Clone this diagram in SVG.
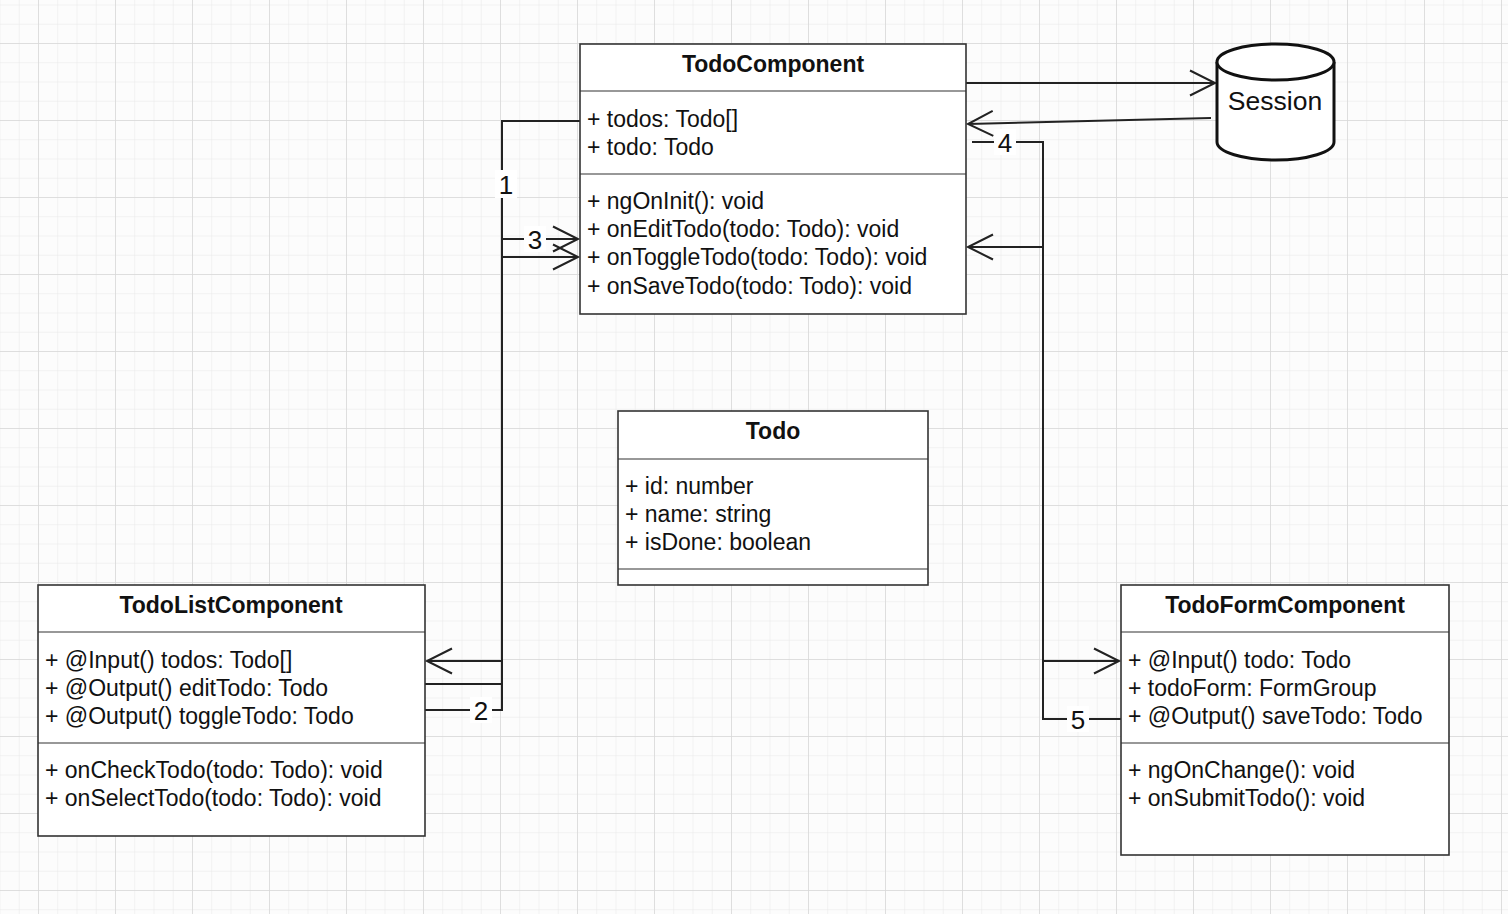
<svg xmlns="http://www.w3.org/2000/svg" width="1508" height="914" viewBox="0 0 1508 914">
<defs>
<pattern id="minor" x="18.75" y="4.5" width="19.25" height="19.25" patternUnits="userSpaceOnUse">
<path d="M0,0 V19.25 M0,0 H19.25" fill="none" stroke="#e8e8e8" stroke-width="1"/>
</pattern>
<pattern id="major" x="38" y="43" width="77" height="77" patternUnits="userSpaceOnUse">
<path d="M0,0 V77 M0,0 H77" fill="none" stroke="#d8d8d8" stroke-width="1.5"/>
</pattern>
<marker id="open" markerUnits="userSpaceOnUse" markerWidth="30" markerHeight="30" refX="26" refY="13" orient="auto" overflow="visible">
<path d="M1,0.5 L26,13 L1,25.5" fill="none" stroke="#222" stroke-width="2"/>
</marker>
<style>
.box{fill:#fff;stroke:#333;stroke-width:1.6}
.sep{stroke:#333;stroke-width:1.2}
.t{font-family:"Liberation Sans",Arial,sans-serif;font-size:23px;fill:#111}
.h{font-family:"Liberation Sans",Arial,sans-serif;font-size:23px;font-weight:bold;fill:#111;text-anchor:middle}
.c{fill:none;stroke:#222;stroke-width:2}
.lbl{font-family:"Liberation Sans",Arial,sans-serif;font-size:26px;fill:#111;text-anchor:middle;dominant-baseline:central}
.lb{fill:#fff}
</style>
</defs>
<rect width="1508" height="914" fill="#fcfcfc"/>
<rect width="1508" height="914" fill="url(#minor)"/>
<rect width="1508" height="914" fill="url(#major)"/>

<g id="connectors">
<polyline class="c" points="580,121 502,121 502,661 427,661" marker-end="url(#open)"/>
<polyline class="c" points="425,710 502,710 502,257 578,257" marker-end="url(#open)"/>
<polyline class="c" points="425,684 502,684 502,239 578,239" marker-end="url(#open)"/>
<polyline class="c" points="972,142 1043,142 1043,661 1119,661" marker-end="url(#open)"/>
<polyline class="c" points="1121,719 1043,719 1043,247 968,247" marker-end="url(#open)"/>
<line class="c" x1="966" y1="83" x2="1215" y2="83" marker-end="url(#open)"/>
<line class="c" x1="1211" y1="118" x2="968" y2="124" marker-end="url(#open)"/>
<rect class="lb" x="495" y="170" width="22" height="28"/>
<text class="lbl" x="506" y="185">1</text>
<rect class="lb" x="470" y="697" width="22" height="26"/>
<text class="lbl" x="481" y="711">2</text>
<rect class="lb" x="524" y="226" width="22" height="26"/>
<text class="lbl" x="535" y="240">3</text>
<rect class="lb" x="994" y="129" width="22" height="26"/>
<text class="lbl" x="1005" y="143">4</text>
<rect class="lb" x="1067" y="706" width="22" height="26"/>
<text class="lbl" x="1078" y="720">5</text>
</g>

<g id="TodoComponent">
<rect class="box" x="580" y="44" width="386" height="270"/>
<line class="sep" x1="580" y1="91" x2="966" y2="91"/>
<line class="sep" x1="580" y1="174" x2="966" y2="174"/>
<text class="h" x="773" y="72">TodoComponent</text>
<text class="t" x="587" y="127">+ todos: Todo[]</text>
<text class="t" x="587" y="155">+ todo: Todo</text>
<text class="t" x="587" y="209">+ ngOnInit(): void</text>
<text class="t" x="587" y="237">+ onEditTodo(todo: Todo): void</text>
<text class="t" x="587" y="265">+ onToggleTodo(todo: Todo): void</text>
<text class="t" x="587" y="294">+ onSaveTodo(todo: Todo): void</text>
</g>

<g id="Session">
<path d="M1217,62 V142 A58.5,18 0 0 0 1334,142 V62" fill="#fff" stroke="#111" stroke-width="3"/>
<ellipse cx="1275.5" cy="62" rx="58.5" ry="18" fill="#fff" stroke="#111" stroke-width="3"/>
<text class="t" x="1275" y="110" text-anchor="middle" style="font-size:26.5px">Session</text>
</g>

<g id="Todo">
<rect class="box" x="618" y="411" width="310" height="174"/>
<line class="sep" x1="618" y1="459" x2="928" y2="459"/>
<line class="sep" x1="618" y1="569" x2="928" y2="569"/>
<text class="h" x="773" y="439">Todo</text>
<text class="t" x="625" y="494">+ id: number</text>
<text class="t" x="625" y="522">+ name: string</text>
<text class="t" x="625" y="550">+ isDone: boolean</text>
</g>

<g id="TodoListComponent">
<rect class="box" x="38" y="585" width="387" height="251"/>
<line class="sep" x1="38" y1="632" x2="425" y2="632"/>
<line class="sep" x1="38" y1="743" x2="425" y2="743"/>
<text class="h" x="231" y="613">TodoListComponent</text>
<text class="t" x="45" y="668">+ @Input() todos: Todo[]</text>
<text class="t" x="45" y="696">+ @Output() editTodo: Todo</text>
<text class="t" x="45" y="724">+ @Output() toggleTodo: Todo</text>
<text class="t" x="45" y="778">+ onCheckTodo(todo: Todo): void</text>
<text class="t" x="45" y="806">+ onSelectTodo(todo: Todo): void</text>
</g>

<g id="TodoFormComponent">
<rect class="box" x="1121" y="585" width="328" height="270"/>
<line class="sep" x1="1121" y1="632" x2="1449" y2="632"/>
<line class="sep" x1="1121" y1="743" x2="1449" y2="743"/>
<text class="h" x="1285" y="613">TodoFormComponent</text>
<text class="t" x="1128" y="668">+ @Input() todo: Todo</text>
<text class="t" x="1128" y="696">+ todoForm: FormGroup</text>
<text class="t" x="1128" y="724">+ @Output() saveTodo: Todo</text>
<text class="t" x="1128" y="778">+ ngOnChange(): void</text>
<text class="t" x="1128" y="806">+ onSubmitTodo(): void</text>
</g>
</svg>
